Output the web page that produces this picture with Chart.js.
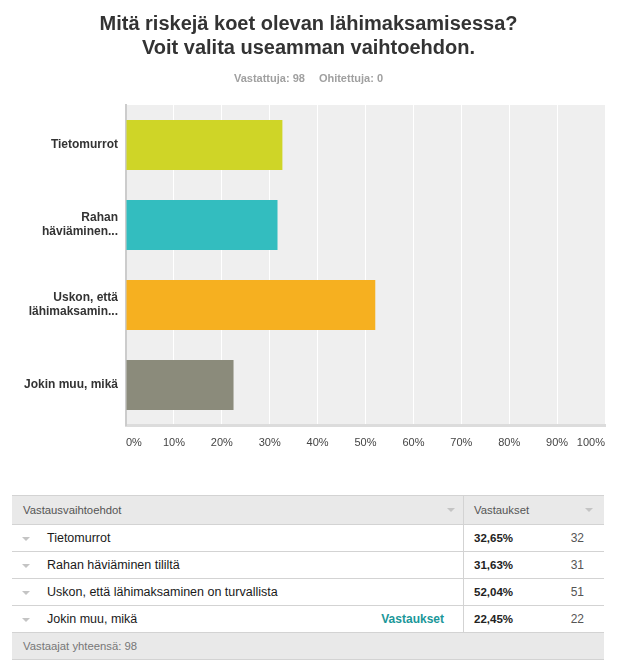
<!DOCTYPE html>
<html>
<head>
<meta charset="utf-8">
<script src="https://cdn.jsdelivr.net/npm/chart.js@4"></script>
<style>
  body { margin: 0; background: #fff; font-family: Arial, "Liberation Sans", sans-serif; }
  #wrap { position: relative; width: 617px; height: 669px; overflow: hidden; }
  #myChart { position: absolute; left: 0; top: 0; }
  .title { position: absolute; left: 0; width: 617px; text-align: center; font-weight: bold; font-size: 20px; color: #333; line-height: 24px; top: 11px; }
  .sub { position: absolute; left: 0; width: 617px; text-align: center; font-weight: bold; font-size: 11px; color: #a0a0a0; top: 72px; }
  .sub span { margin: 0 7px; }
  table { position: absolute; left: 12px; top: 495px; width: 592px; border-collapse: collapse; font-size: 12.5px; }
  td { height: 26px; border-bottom: 1px solid #d3d3d3; padding: 0; color: #1a1a1a; }
  tr.head td { background: #e9e9e9; color: #555; height: 28px; border-top: 1px solid #d3d3d3; font-size: 11.3px; }
  tr.foot td { background: #e9e9e9; color: #777; font-size: 11.3px; }
  .c1 { position: relative; padding-left: 35px; }
  .c2 { border-left: 1px solid #d3d3d3; padding-left: 10px; width: 130px; position: relative; }
  .tri { position: absolute; width: 0; height: 0; border-left: 4px solid transparent; border-right: 4px solid transparent; border-top: 4px solid #c4c4c4; top: 12px; }
  .pct { font-weight: bold; color: #222; font-size: 11.5px; }
  .cnt { position: absolute; right: 20px; top: 6px; color: #555; font-size: 12px; }
  .link { position: absolute; right: 19px; top: 6px; color: #1a9799; font-weight: bold; font-size: 12px; }
</style>
</head>
<body>
<div id="wrap">
  <canvas id="myChart" width="617" height="460"></canvas>
  <div class="title" id="title"></div>
  <div class="sub" id="sub"></div>
  <table id="tbl"></table>
</div>
<script>
var titleLines = ['Mitä riskejä koet olevan lähimaksamisessa?', 'Voit valita useamman vaihtoehdon.'];
var answered = 98;
var skipped = 0;
var labels = [['Tietomurrot'], ['Rahan', 'häviäminen...'], ['Uskon, että', 'lähimaksamin...'], ['Jokin muu, mikä']];
var fullLabels = ['Tietomurrot', 'Rahan häviäminen tililtä', 'Uskon, että lähimaksaminen on turvallista', 'Jokin muu, mikä'];
var percents = [32.65, 31.63, 52.04, 22.45];
var counts = [32, 31, 51, 22];
var colors = ['#cfd527', '#33bdbf', '#f6b020', '#8b8b7b'];
var chart;

function draw_head() {
    document.getElementById('title').innerHTML = titleLines.join('<br>');
    document.getElementById('sub').innerHTML =
        '<span>Vastattuja: ' + answered + '</span><span>Ohitettuja: ' + skipped + '</span>';
}

function draw_table() {
    let rows = `
    <tr class="head">
      <td class="c1" style="padding-left:11px;">Vastausvaihtoehdot<span class="tri" style="right:8px;"></span></td>
      <td class="c2">Vastaukset<span class="tri" style="right:11px;"></span></td>
    </tr>`;
    for (let i = 0; i < fullLabels.length; i++) {
        let link = i == fullLabels.length - 1 ? '<span class="link">Vastaukset</span>' : '';
        rows += `
    <tr>
      <td class="c1"><span class="tri" style="left:10px;"></span>${fullLabels[i]}${link}</td>
      <td class="c2"><span class="pct">${percents[i].toFixed(2).replace('.', ',')}%</span><span class="cnt">${counts[i]}</span></td>
    </tr>`;
    }
    rows += `
    <tr class="foot">
      <td colspan="2" style="padding-left:11px;">Vastaajat yhteensä: ${answered}</td>
    </tr>`;
    document.getElementById('tbl').innerHTML = rows;
}

// grey plot background
const plotBg = {
    id: 'plotBg',
    beforeDraw(c) {
        let a = c.chartArea;
        c.ctx.save();
        c.ctx.fillStyle = '#efefef';
        c.ctx.fillRect(a.left, a.top, a.right - a.left, a.bottom - a.top);
        c.ctx.restore();
    },
};

function draw_plot() {
    var ctx = document.getElementById('myChart');
    chart = new Chart(ctx, {
        type: 'bar',
        data: {
            labels: labels,
            datasets: [
                {
                    data: percents,
                    backgroundColor: colors,
                    borderWidth: 0,
                    barPercentage: 0.625,
                    categoryPercentage: 1,
                },
            ],
        },
        plugins: [plotBg],
        options: {
            indexAxis: 'y',
            responsive: false,
            animation: false,
            layout: { padding: { top: 105, right: 12, left: 0, bottom: 0 } },
            scales: {
                x: {
                    min: 0,
                    max: 100,
                    afterFit: (s) => { s.height = 35; },
                    grid: { color: '#ffffff', lineWidth: 1, drawTicks: false },
                    border: { color: '#dcdcdc', width: 3 },
                    ticks: {
                        stepSize: 10,
                        padding: 11,
                        align: 'inner',
                        color: '#444',
                        font: { family: 'Arial', size: 11 },
                        callback: (v) => v + '%',
                    },
                },
                y: {
                    afterFit: (s) => { s.width = 126; },
                    grid: { display: false, drawTicks: false },
                    border: { color: '#cccccc', width: 2 },
                    ticks: {
                        padding: 8,
                        color: '#333',
                        font: { family: 'Arial', size: 12, weight: 'bold', lineHeight: 1.15 },
                    },
                },
            },
            plugins: {
                legend: { display: false },
                tooltip: { enabled: false },
            },
        },
    });
}

draw_head();
draw_plot();
draw_table();
</script>
</body>
</html>
